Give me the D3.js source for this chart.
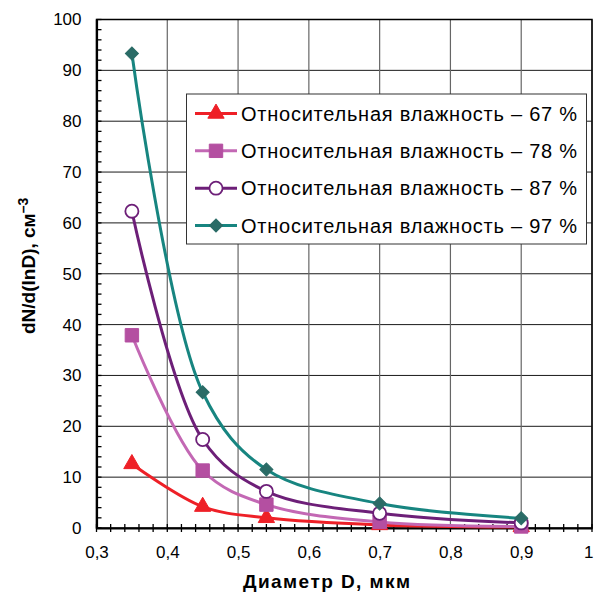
<!DOCTYPE html>
<html>
<head>
<meta charset="utf-8">
<script src="https://cdn.jsdelivr.net/npm/d3@7"></script>
<style>
  body { margin: 0; background: #fff; }
  svg { display: block; font-family: Arial, "Liberation Sans", sans-serif; }
</style>
</head>
<body>
<svg id="chart" width="594" height="594"></svg>
<script>
// values
const diameters = [0.35, 0.45, 0.54, 0.7, 0.9];
const rh67 = [12.6, 4.2, 2.0, 0.6, 0.2];
const rh78 = [37.9, 11.3, 4.6, 1.2, 0.3];
const rh87 = [62.3, 17.4, 7.2, 2.9, 1.0];
const rh97 = [93.3, 26.7, 11.5, 4.8, 1.9];
const seriesNames = [
  "Относительная влажность – 67 %",
  "Относительная влажность – 78 %",
  "Относительная влажность – 87 %",
  "Относительная влажность – 97 %"
];
const xTicks = [0.3, 0.4, 0.5, 0.6, 0.7, 0.8, 0.9, 1.0];
const yTicks = [0, 10, 20, 30, 40, 50, 60, 70, 80, 90, 100];

const series = [
  {name: seriesNames[0], values: rh67, line: "#ee2027", marker: "triangle", fill: "#ee2027", stroke: "#ee2027"},
  {name: seriesNames[1], values: rh78, line: "#c368b4", marker: "square", fill: "#b44fa1", stroke: "#b44fa1"},
  {name: seriesNames[2], values: rh87, line: "#6d1f78", marker: "circle", fill: "#fff", stroke: "#6d1f78"},
  {name: seriesNames[3], values: rh97, line: "#178580", marker: "diamond", fill: "#2a6b66", stroke: "#2a6b66"}
];

const margin = {top: 19.5, right: 2, bottom: 66, left: 96.5};
const width = 594, height = 594;
const svg = d3.select("#chart");

const x = d3.scaleLinear().domain([0.3, 1.0]).range([margin.left, width - margin.right]);
const y = d3.scaleLinear().domain([0, 100]).range([height - margin.bottom, margin.top]);

const fmt = d => (Math.round(d * 10) / 10).toString().replace(".", ",");

// grid
svg.append("g")
  .selectAll("line")
  .data(yTicks.slice(1))
  .join("line")
  .attr("x1", margin.left).attr("x2", width - margin.right)
  .attr("y1", d => y(d)).attr("y2", d => y(d))
  .attr("stroke", "#1a1a1a").attr("stroke-width", 1);

svg.append("g")
  .selectAll("line")
  .data(xTicks.slice(1))
  .join("line")
  .attr("x1", d => x(d)).attr("x2", d => x(d))
  .attr("y1", margin.top).attr("y2", height - margin.bottom)
  .attr("stroke", "#666").attr("stroke-width", 1.2);

// frame
svg.append("rect")
  .attr("x", margin.left).attr("y", margin.top)
  .attr("width", width - margin.right - margin.left)
  .attr("height", height - margin.bottom - margin.top)
  .attr("fill", "none").attr("stroke", "#000").attr("stroke-width", 1.5);

// axes
const xAxis = svg.append("g")
  .attr("transform", `translate(0,${height - margin.bottom})`)
  .call(d3.axisBottom(x).tickValues(xTicks).tickSize(0).tickPadding(18)
    .tickFormat(fmt));
xAxis.select(".domain").attr("stroke", "#000").attr("stroke-width", 2.2);
// last label "1" sits on the right edge, keep it inside the page
xAxis.selectAll("text").attr("font-size", 17).attr("fill", "#000")
  .attr("font-family", "Arial, 'Liberation Sans', sans-serif")
  .attr("text-anchor", d => d === 1 ? "end" : "middle")
  .attr("dx", d => d === 1 ? 1 : 0);

const xMinor = d3.range(0.3, 1.0001, 0.02);
svg.append("g")
  .selectAll("line")
  .data(xMinor)
  .join("line")
  .attr("x1", d => x(d)).attr("x2", d => x(d))
  .attr("y1", y(0) - 4).attr("y2", y(0) + 4)
  .attr("stroke", "#000").attr("stroke-width", 1.3);

const yAxis = svg.append("g")
  .attr("transform", `translate(${margin.left},0)`)
  .call(d3.axisLeft(y).tickValues(yTicks).tickSize(0).tickPadding(15));
yAxis.select(".domain").attr("stroke", "#000").attr("stroke-width", 2.2);
yAxis.selectAll("text").attr("font-size", 17).attr("fill", "#000")
  .attr("font-family", "Arial, 'Liberation Sans', sans-serif");

svg.append("g")
  .selectAll("line")
  .data(d3.range(0, 100.001, 2))
  .join("line")
  .attr("x1", margin.left).attr("x2", margin.left + 5)
  .attr("y1", d => y(d)).attr("y2", d => y(d))
  .attr("stroke", "#000").attr("stroke-width", 1.3);

// axis titles
svg.append("text")
  .attr("x", 326.5).attr("y", 588)
  .attr("text-anchor", "middle")
  .attr("font-size", 19).attr("font-weight", "bold")
  .attr("textLength", 167).attr("lengthAdjust", "spacing")
  .text("Диаметр D, мкм");

const yTitle = svg.append("text")
  .attr("transform", "translate(35,334) rotate(-90)")
  .attr("text-anchor", "start")
  .attr("font-size", 19).attr("font-weight", "bold");
yTitle.append("tspan").text("dN/d(lnD), см");
yTitle.append("tspan").attr("dy", -7).attr("font-size", 14).text("–3");

// markers
const diamondPath = d3.symbol().type(d3.symbolSquare).size(85);
const symbolFor = {
  triangle: d3.symbol().type(d3.symbolTriangle).size(115),
  square: d3.symbol().type(d3.symbolSquare).size(180),
  circle: d3.symbol().type(d3.symbolCircle).size(135),
  diamond: diamondPath
};
const markerTransform = (m, px, py) =>
  m === "diamond" ? `translate(${px},${py}) rotate(45)` : `translate(${px},${py})`;

const line = d3.line()
  .x(d => x(d[0]))
  .y(d => y(d[1]))
  .curve(d3.curveCatmullRom.alpha(0.5));

series.forEach(s => {
  const pts = diameters.map((d, i) => [d, s.values[i]]);
  svg.append("path")
    .datum(pts)
    .attr("d", line)
    .attr("fill", "none")
    .attr("stroke", s.line)
    .attr("stroke-width", 3);
  svg.append("g")
    .selectAll("path")
    .data(pts)
    .join("path")
    .attr("d", symbolFor[s.marker])
    .attr("transform", d => markerTransform(s.marker, x(d[0]), y(d[1])))
    .attr("fill", s.fill)
    .attr("stroke", s.stroke)
    .attr("stroke-width", s.marker === "circle" ? 1.8 : 1);
});

// legend
const legend = svg.append("g");
legend.append("rect")
  .attr("x", 186.5).attr("y", 94)
  .attr("width", 400).attr("height", 150)
  .attr("fill", "#fff").attr("stroke", "#333").attr("stroke-width", 1);

const legendY = d3.scalePoint().domain(seriesNames).range([113.5, 225.5]);
series.forEach(s => {
  const ly = legendY(s.name);
  legend.append("line")
    .attr("x1", 195).attr("x2", 237)
    .attr("y1", ly).attr("y2", ly)
    .attr("stroke", s.line).attr("stroke-width", 3);
  legend.append("path")
    .attr("d", symbolFor[s.marker])
    .attr("transform", markerTransform(s.marker, 216, ly))
    .attr("fill", s.fill)
    .attr("stroke", s.stroke)
    .attr("stroke-width", s.marker === "circle" ? 1.8 : 1);
  legend.append("text")
    .attr("x", 241).attr("y", ly)
    .attr("dy", "0.36em")
    .attr("font-size", 20)
    .attr("textLength", 336).attr("lengthAdjust", "spacing")
    .text(s.name);
});
</script>
</body>
</html>
